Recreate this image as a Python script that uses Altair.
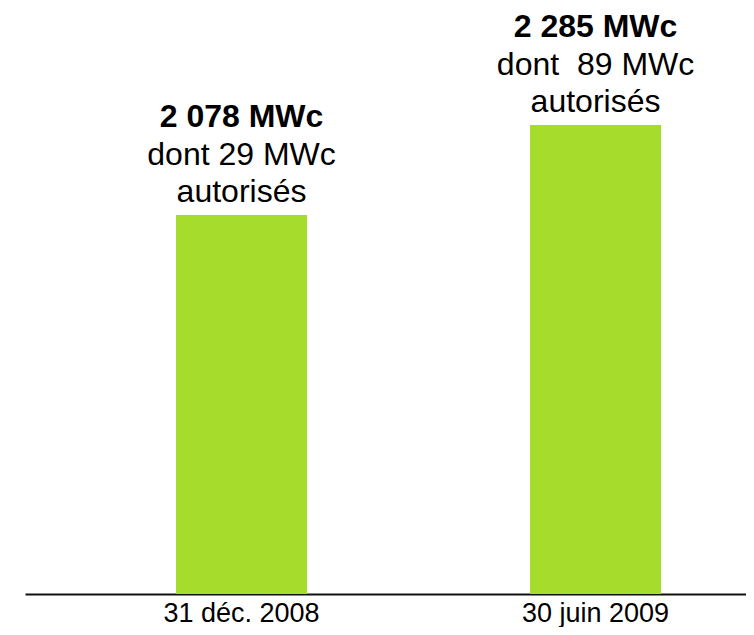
import altair as alt
import pandas as pd

categories = ["31 déc. 2008", "30 juin 2009"]
values = [2078, 2285]
line1 = ["2 078 MWc", "2 285 MWc"]
line2 = ["dont 29 MWc", "dont \u00a089 MWc"]
line3 = ["autorisés", "autorisés"]

df = pd.DataFrame({"cat": categories, "val": values, "l1": line1, "l2": line2, "l3": line3})

FONT = "Liberation Sans"

x = alt.X("cat:N", sort=categories, title=None,
          scale=alt.Scale(paddingInner=0.6299, paddingOuter=0.3446, align=0.619, round=False,
                          range=[0, 729]),
          axis=alt.Axis(labelAngle=0, labelFont=FONT, labelFontSize=27, labelColor="#000000",
                        labelBaseline="alphabetic", labelPadding=27, ticks=False, tickSize=0,
                        domainColor="#111111", domainWidth=2, labelFlush=False, labelLimit=400))
y = alt.Y("val:Q", title=None,
          scale=alt.Scale(domain=[1206.3, 2554.1], zero=False, nice=False, clamp=True),
          axis=None)

base = alt.Chart(df)
bars = base.mark_bar(color="#A6DC2B").encode(x=x, y=y)
t1 = base.mark_text(font=FONT, fontSize=32, fontWeight="bold", baseline="alphabetic",
                    dy=-88, color="#000000").encode(x=x, y=y, text="l1:N")
t2 = base.mark_text(font=FONT, fontSize=32, baseline="alphabetic",
                    dy=-50, color="#000000").encode(x=x, y=y, text="l2:N")
t3 = base.mark_text(font=FONT, fontSize=32, baseline="alphabetic",
                    dy=-13, color="#000000").encode(x=x, y=y, text="l3:N")

chart = alt.layer(bars, t1, t2, t3).properties(
    width=721, height=586,
    background="#ffffff",
    autosize=alt.AutoSizeParams(type="none"),
    padding={"left": 17, "top": 0, "right": 0, "bottom": 33},
).configure_view(strokeWidth=0, stroke="transparent")

chart.save("out.html", embed_options={"renderer": "svg", "actions": False})
